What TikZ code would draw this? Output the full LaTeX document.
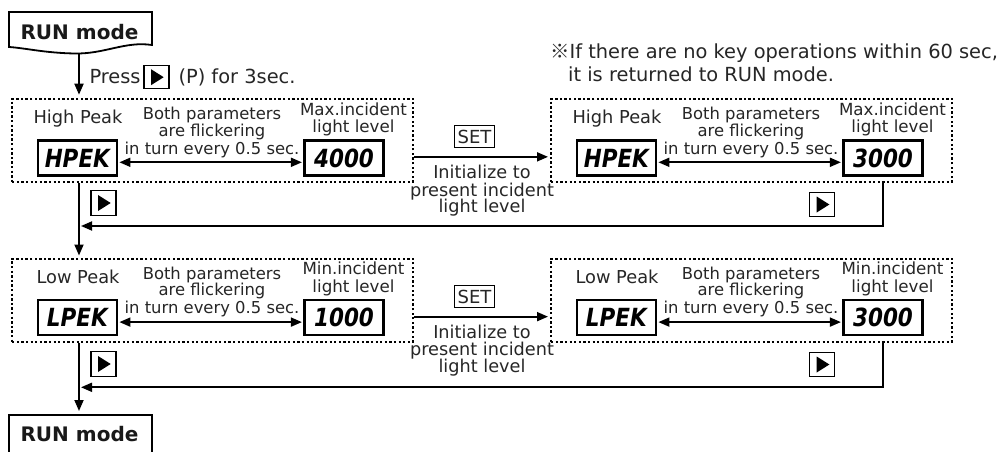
\documentclass[tikz,border=0pt]{standalone}
\usepackage{fontspec}
\setmainfont{DejaVu Sans}
\newfontfamily\cjk{Noto Sans CJK KR}
\usetikzlibrary{arrows.meta}
\newcommand\fs[1]{\fontsize{#1}{#1}\selectfont}
\newcommand\dtext[1]{\scalebox{0.86}[1]{\fs{25}\bfseries\itshape #1}}
\newcommand\keytri[1]{\fill (#1) ++(-5.3,-8) -- ++(0,16) -- ++(12.7,-8) -- cycle;}
\tikzset{
  dotbox/.style={draw, line width=2.3pt, dash pattern=on 2.3pt off 2.3pt,
    minimum width=401pt, minimum height=83pt, inner sep=0pt, anchor=north west},
  disp/.style={draw, line width=2.2pt, minimum width=79pt, minimum height=35pt, inner sep=0pt},
  keybox/.style={draw, line width=1.4pt, minimum width=25pt, minimum height=24.5pt, inner sep=0pt},
  setbox/.style={draw, line width=1.3pt, minimum width=40pt, minimum height=22pt, inner sep=0pt, font=\fs{18}, text=black!85},
  lblA/.style={font=\fs{17.8}, text=black!85, inner sep=0pt},
  lblB/.style={font=\fs{16.4}, text=black!85, inner sep=0pt},
  lblC/.style={font=\fs{16.7}, text=black!85, inner sep=0pt},
  lblD/.style={font=\fs{17.7}, text=black!85, inner sep=0pt},
  lblE/.style={font=\fs{19.4}, text=black!85, inner sep=0pt},
  runtxt/.style={font=\fs{20}\bfseries, text=black!90, inner sep=0pt},
  conn/.style={line width=1.8pt, -{Triangle[length=11pt,width=9pt]}},
  plain/.style={line width=1.8pt},
  dbl/.style={line width=1.8pt, {Triangle[length=11pt,width=9pt]}-{Triangle[length=11pt,width=9pt]},
    shorten <=1.5pt, shorten >=1.5pt},
}
\newcommand\pnl[7]{%
  \node[dotbox] (#3) at (#1,#2) {};
  \node[lblA, anchor=base] (#3lab) at (#1+67,#2+25.6) {#4};
  \node[disp] (#3L) at (#1+66.3,#2+60.3) {\dtext{#6}};
  \node[disp] (#3R) at (#1+333,#2+60.3) {\dtext{#7}};
  \node[lblB, anchor=base] (#3b1) at (#1+201,#2+21.6) {Both parameters};
  \node[lblB, anchor=base] (#3b2) at (#1+201,#2+38.3) {are flickering};
  \node[lblB, anchor=base] (#3b3) at (#1+201,#2+56.3) {in turn every 0.5 sec.};
  \node[lblC, anchor=base] (#3m1) at (#1+342.5,#2+17.3) {#5};
  \node[lblC, anchor=base] (#3m2) at (#1+342.5,#2+34.6) {light level};
  \draw[dbl] ([yshift=-4.3pt]#3L.east) -- ([yshift=-4.3pt]#3R.west);
}
\begin{document}
\begin{tikzpicture}[x=1pt,y=-1pt]
\useasboundingbox (0,0) rectangle (1004,452);
\clip (0,0) rectangle (1004,452);
\fill[white] (0,0) rectangle (1004,452);
\coordinate (mx) at (79,0);
% top RUN mode (document shape)
\draw[plain, line join=miter] (9,47) -- (9,12) -- (152,12) -- (152,45)
  .. controls (125,41) and (105,54) .. (75,53.5)
  .. controls (45,53) and (25,48) .. (9,47) -- cycle;
\node[runtxt, anchor=base] (run1) at (79.5,39.3) {RUN mode};
\coordinate (run1b) at (79,53.5);
% press text
\node[lblE, anchor=base west] (press) at (89.3,83.3) {Press};
\node[keybox, minimum width=25pt, minimum height=23pt] (pk) at (156.3,77.2) {};
\keytri{pk.center}
\node[lblE, anchor=base west] (press2) at (178.3,83.3) {(P) for 3sec.};
% note
\node[lblE, anchor=base west] (note1) at (550,58.3) {{\cjk ※}If there are no key operations within 60 sec,};
\node[lblE, anchor=base west] (note2) at (568,81.7) {it is returned to RUN mode.};
% panels
\pnl{11}{97.7}{hpa}{High Peak}{Max.incident}{HPEK}{4000}
\pnl{550}{97.7}{hpb}{High Peak}{Max.incident}{HPEK}{3000}
\pnl{11}{257.5}{lpa}{Low Peak}{Min.incident}{LPEK}{1000}
\pnl{550}{257.5}{lpb}{Low Peak}{Min.incident}{LPEK}{3000}
% SET transitions
\node[setbox] (set1) at (474.5,136.7) {SET};
\draw[conn, shorten >=2pt] ([yshift=-16.5pt]hpa.east) -- ([yshift=-16.5pt]hpb.west);
\node[lblD, anchor=base] (i1) at (482,178.3) {Initialize to};
\node[lblD, anchor=base] (i2) at (482,196) {present incident};
\node[lblD, anchor=base] (i3) at (482,212.7) {light level};
\node[setbox] (set2) at (474.5,296.7) {SET};
\draw[conn, shorten >=2pt] ([yshift=-16.5pt]lpa.east) -- ([yshift=-16.5pt]lpb.west);
\node[lblD, anchor=base] (j1) at (482,338.1) {Initialize to};
\node[lblD, anchor=base] (j2) at (482,355.8) {present incident};
\node[lblD, anchor=base] (j3) at (482,372.5) {light level};
% keys
\node[keybox] (k1) at (103.3,203) {}; \keytri{k1.center}
\node[keybox] (k2) at (822,204.5) {}; \keytri{k2.center}
\node[keybox] (k3) at (103.3,364) {}; \keytri{k3.center}
\node[keybox] (k4) at (822,364.5) {}; \keytri{k4.center}
% bottom RUN mode
\node[draw, line width=1.8pt, anchor=north west, minimum width=143pt, minimum height=60pt, inner sep=0pt] (run2) at (8.3,414) {};
\node[runtxt, anchor=base] (run2t) at (79.5,441.7) {RUN mode};
% main vertical flow
\draw[conn, shorten >=3pt] (run1b) -- (hpa.north -| run1b);
\draw[conn, shorten >=2pt] (hpa.south -| mx) -- (lpa.north -| mx);
\draw[conn, shorten >=3pt] (lpa.south -| mx) -- (run2.north -| mx);
% return lines
\coordinate (r1) at (883.3,226);
\draw[conn, shorten >=2pt, line join=miter] (hpb.south -| r1) -- (r1) -- (r1 -| mx);
\coordinate (r2) at (883.3,387.3);
\draw[conn, shorten >=2pt, line join=miter] (lpb.south -| r2) -- (r2) -- (r2 -| mx);
\end{tikzpicture}
\end{document}
